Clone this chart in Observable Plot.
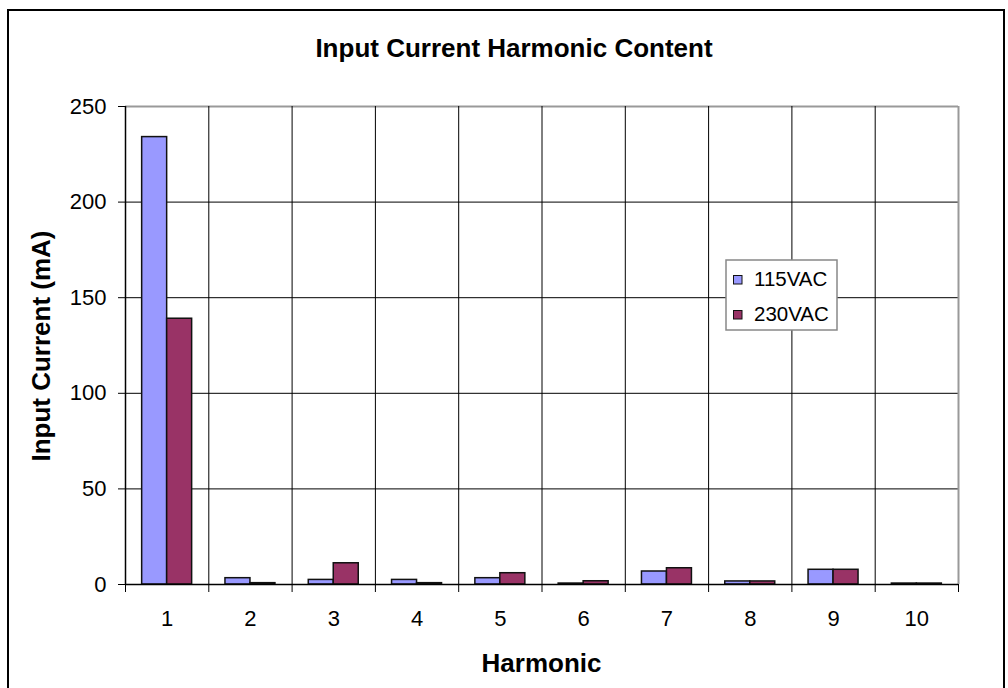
<!DOCTYPE html>
<html>
<head>
<meta charset="utf-8">
<script src="https://cdn.jsdelivr.net/npm/d3@7"></script>
<script src="https://cdn.jsdelivr.net/npm/@observablehq/plot@0.6"></script>
<style>
  html, body { margin: 0; padding: 0; background: #fff; overflow: hidden; }
  #chart { position: relative; width: 1008px; height: 688px; }
  #chart svg { font-family: "Liberation Sans", Arial, sans-serif; }
</style>
</head>
<body>
<div id="chart"></div>
<script>
// Harmonic order (1 = fundamental) and measured input current per line voltage, in mA
const harmonics = [1, 2, 3, 4, 5, 6, 7, 8, 9, 10];
const current115 = [234, 3.3, 2.4, 2.4, 3.3, 0.5, 6.8, 1.6, 7.7, 0.5];
const current230 = [139, 0.7, 11.1, 0.7, 5.9, 1.7, 8.5, 1.6, 7.7, 0.5];
const seriesNames = ["115VAC", "230VAC"];
const seriesColors = ["#9999FF", "#993366"];
const yTicks = [0, 50, 100, 150, 200, 250];

const titleText = "Input Current Harmonic Content";
const xTitle = "Harmonic";
const yTitle = "Input Current (mA)";

// Long-format rows: the two series sit side by side inside each harmonic's slot
const barWidth = 0.3;
const rows = [];
harmonics.forEach((h, i) => {
  rows.push({harmonic: h, series: seriesNames[0], value: current115[i], x1: h - barWidth, x2: h});
  rows.push({harmonic: h, series: seriesNames[1], value: current230[i], x1: h, x2: h + barWidth});
});

// Category boundaries (gridlines and tick marks fall between harmonics)
const boundaries = d3.range(0.5, harmonics.length + 1, 1);
const innerBoundaries = boundaries.slice(1, -1);
const font = "Liberation Sans, Arial, sans-serif";

const plot = Plot.plot({
  width: 1008,
  height: 688,
  marginLeft: 125,
  marginRight: 50,
  marginTop: 106,
  marginBottom: 104,
  style: {fontFamily: font, background: "transparent"},
  x: {type: "linear", domain: [0.5, harmonics.length + 0.5]},
  y: {domain: [0, 250]},
  color: {domain: seriesNames, range: seriesColors},
  marks: [
    // horizontal gridlines and plot-area border
    Plot.ruleY(yTicks.slice(1, -1), {stroke: "#000", strokeWidth: 1}),
    Plot.ruleY([250], {stroke: "#999", strokeWidth: 2}),
    Plot.ruleX(innerBoundaries, {y1: 0, y2: 250, stroke: "#000", strokeWidth: 1}),
    Plot.ruleX([harmonics.length + 0.5], {y1: 0, y2: 250, stroke: "#999", strokeWidth: 2}),
    // bars
    Plot.rectY(rows, {x1: "x1", x2: "x2", y: "value", fill: "series", stroke: "#111", strokeWidth: 1.5}),
    // axes
    Plot.ruleX([0.5], {y1: 0, y2: 250, stroke: "#000", strokeWidth: 1.5}),
    Plot.ruleY([0], {stroke: "#000", strokeWidth: 1.5}),
    Plot.axisY(yTicks, {tickSize: 7, tickPadding: 12, fontSize: 22, label: null, stroke: "#000", color: "#000"}),
    Plot.axisX(boundaries, {tickSize: 8, tickFormat: () => "", label: null, stroke: "#000"}),
    Plot.axisX(harmonics, {tickSize: 0, tickPadding: 26, fontSize: 22, label: null, tickFormat: d => String(d), color: "#000"})
  ]
});

const svg = d3.select(plot);

// outer chart border, kept behind everything else
svg.insert("rect", ":first-child")
  .attr("x", 8).attr("y", 10).attr("width", 996).attr("height", 800)
  .attr("fill", "#fff").attr("stroke", "#000").attr("stroke-width", 2);

// titles
svg.append("text")
  .attr("x", 514).attr("y", 57)
  .attr("text-anchor", "middle")
  .attr("font-size", 26).attr("font-weight", "bold").attr("font-family", font)
  .attr("fill", "#000")
  .text(titleText);

svg.append("text")
  .attr("x", 541.5).attr("y", 672)
  .attr("text-anchor", "middle")
  .attr("font-size", 26).attr("font-weight", "bold").attr("font-family", font)
  .attr("fill", "#000")
  .text(xTitle);

svg.append("text")
  .attr("transform", "translate(50,346) rotate(-90)")
  .attr("text-anchor", "middle")
  .attr("font-size", 26).attr("font-weight", "bold").attr("font-family", font)
  .attr("fill", "#000")
  .text(yTitle);

// legend box
const legend = svg.append("g").attr("transform", "translate(726,260)");
legend.append("rect")
  .attr("width", 111).attr("height", 70)
  .attr("fill", "#fff").attr("stroke", "#888").attr("stroke-width", 1.5);
seriesNames.forEach((name, i) => {
  const row = legend.append("g").attr("transform", `translate(0,${i * 35})`);
  row.append("rect")
    .attr("x", 7.5).attr("y", 15.5).attr("width", 8.5).attr("height", 8.5)
    .attr("fill", seriesColors[i]).attr("stroke", "#111").attr("stroke-width", 1);
  row.append("text")
    .attr("x", 28).attr("y", 26)
    .attr("text-anchor", "start")
    .attr("font-size", 20.5).attr("font-family", font).attr("fill", "#000")
    .text(name);
});

document.getElementById("chart").appendChild(plot);
</script>
</body>
</html>
